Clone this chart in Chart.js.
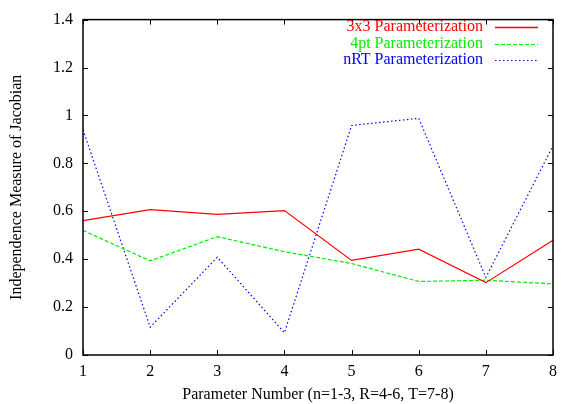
<!DOCTYPE html>
<html>
<head>
<meta charset="utf-8">
<script src="https://cdn.jsdelivr.net/npm/chart.js@4/dist/chart.umd.min.js"></script>
<style>
  html, body { margin: 0; padding: 0; background: #fff; }
  #wrap { width: 564px; height: 404px; }
</style>
</head>
<body>
<div id="wrap"><canvas id="chart"></canvas></div>
<script>
const params = [1, 2, 3, 4, 5, 6, 7, 8];
const param3x3 = [0.561, 0.607, 0.587, 0.603, 0.395, 0.442, 0.302, 0.479];
const param4pt = [0.520, 0.393, 0.494, 0.431, 0.382, 0.307, 0.312, 0.297];
const paramNRT = [0.940, 0.116, 0.408, 0.093, 0.958, 0.988, 0.324, 0.873];
const seriesNames = ['3x3 Parameterization', '4pt Parameterization', 'nRT Parameterization'];
const seriesColors = ['#ff0000', '#00ee00', '#0000ff'];
const seriesDash = [[], [4, 2], [1.5, 2.5]];

const serif = '"Liberation Serif", "DejaVu Serif", serif';

function points(vals) {
    return params.map((p, i) => ({ x: p, y: vals[i] }));
}

// gnuplot style frame with inward ticks on every side, plus the key
const framePlugin = {
    id: 'frame',
    afterDraw(chart) {
        const ctx = chart.ctx;
        const a = chart.chartArea;
        const xs = chart.scales.x;
        const ys = chart.scales.y;
        ctx.save();
        ctx.strokeStyle = '#000';
        ctx.lineWidth = 1.5;
        ctx.strokeRect(a.left, a.top, a.right - a.left, a.bottom - a.top);
        ctx.lineWidth = 1;
        ctx.beginPath();
        xs.ticks.forEach(t => {
            const px = Math.round(xs.getPixelForValue(t.value)) + 0.5;
            ctx.moveTo(px, a.bottom); ctx.lineTo(px, a.bottom - 5);
            ctx.moveTo(px, a.top); ctx.lineTo(px, a.top + 5);
        });
        ys.ticks.forEach(t => {
            const py = Math.round(ys.getPixelForValue(t.value)) + 0.5;
            ctx.moveTo(a.left, py); ctx.lineTo(a.left + 5, py);
            ctx.moveTo(a.right, py); ctx.lineTo(a.right - 5, py);
        });
        ctx.stroke();

        // key
        ctx.font = '16px ' + serif;
        ctx.textAlign = 'right';
        ctx.textBaseline = 'middle';
        seriesNames.forEach((name, i) => {
            const y = 27 + i * 16.5;
            ctx.fillStyle = seriesColors[i];
            ctx.fillText(name, 483, y);
            ctx.strokeStyle = seriesColors[i];
            ctx.lineWidth = i === 0 ? 1.5 : 1.2;
            ctx.setLineDash(seriesDash[i]);
            ctx.beginPath();
            ctx.moveTo(495, Math.round(y) + 0.5);
            ctx.lineTo(538, Math.round(y) + 0.5);
            ctx.stroke();
        });
        ctx.restore();
    }
};

new Chart(document.getElementById('chart'), {
    type: 'line',
    data: {
        datasets: seriesNames.map((name, i) => ({
            label: name,
            data: points([param3x3, param4pt, paramNRT][i]),
            borderColor: seriesColors[i],
            borderWidth: 1.2,
            borderDash: seriesDash[i],
            pointRadius: 0,
            tension: 0,
            fill: false
        }))
    },
    options: {
        responsive: true,
        maintainAspectRatio: false,
        animation: false,
        layout: { padding: { left: 0, top: 14, right: 6, bottom: 0 } },
        plugins: {
            legend: { display: false },
            tooltip: { enabled: false }
        },
        scales: {
            x: {
                type: 'linear',
                min: 1,
                max: 8,
                ticks: {
                    stepSize: 1,
                    color: '#000',
                    padding: 7,
                    font: { family: serif, size: 16 }
                },
                grid: { display: false, drawTicks: false },
                border: { display: false },
                title: {
                    display: true,
                    text: 'Parameter Number (n=1-3, R=4-6, T=7-8)',
                    color: '#000',
                    font: { family: serif, size: 16 },
                    padding: { top: 0, bottom: 0 }
                },
                afterFit(scale) { scale.height = 49; }
            },
            y: {
                min: 0,
                max: 1.4,
                ticks: {
                    stepSize: 0.2,
                    color: '#000',
                    padding: 10,
                    font: { family: serif, size: 16 },
                    callback: v => String(Math.round(v * 10) / 10)
                },
                grid: { display: false, drawTicks: false },
                border: { display: false },
                title: {
                    display: true,
                    text: 'Independence Measure of Jacobian',
                    color: '#000',
                    font: { family: serif, size: 16 },
                    padding: { top: 7.5, bottom: 0 }
                },
                afterFit(scale) { scale.width = 83; }
            }
        }
    },
    plugins: [framePlugin]
});
</script>
</body>
</html>
